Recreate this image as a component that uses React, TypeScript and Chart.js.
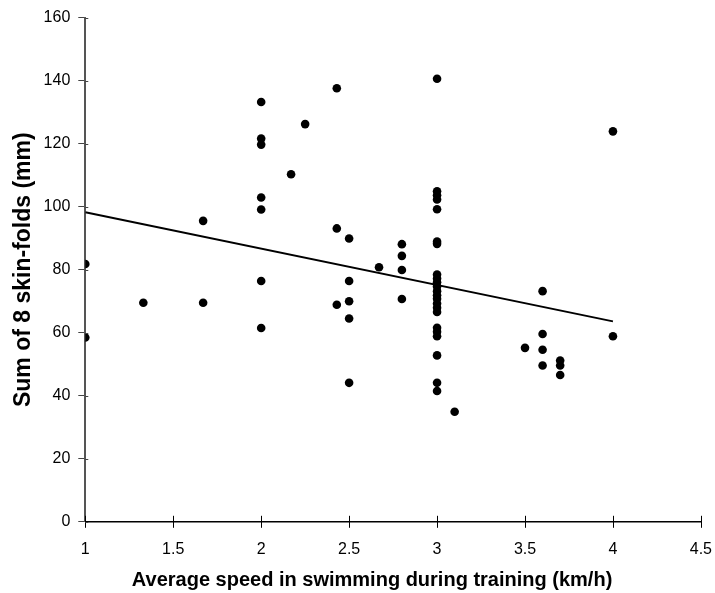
import React, { useEffect, useRef } from "react";
import { Chart, registerables } from "chart.js";

Chart.register(...registerables);

const speeds: number[] = [
  1, 1,
  1.33,
  1.67, 1.67,
  2, 2, 2, 2, 2, 2, 2,
  2.17,
  2.25,
  2.43, 2.43, 2.43,
  2.5, 2.5, 2.5, 2.5, 2.5,
  2.67,
  2.8, 2.8, 2.8, 2.8,
  3, 3, 3, 3, 3, 3, 3, 3, 3, 3, 3, 3, 3, 3, 3, 3, 3, 3, 3, 3, 3, 3, 3,
  3.1,
  3.5,
  3.6, 3.6, 3.6, 3.6,
  3.7, 3.7, 3.7,
  4, 4,
];

const skinfolds: number[] = [
  81.8, 58.5,
  69.5,
  95.5, 69.5,
  133.2, 121.6, 119.7, 102.9, 99.1, 76.4, 61.5,
  110.3,
  126.2,
  137.6, 93.1, 68.9,
  89.9, 76.4, 70.0, 64.5, 44.1,
  80.8,
  88.1, 84.4, 79.9, 70.7,
  140.6, 104.9, 103.6, 102.3, 99.2, 88.9, 88.2, 78.5, 77.2, 76.0, 74.7, 73.2, 71.9, 70.8, 69.3, 67.9, 66.6, 61.6, 60.3, 58.9, 52.8, 44.1, 41.5,
  34.9,
  55.2,
  73.2, 59.6, 54.6, 49.6,
  51.2, 49.6, 46.6,
  123.9, 58.9,
];

const trendX: number[] = [1, 4];
const trendY: number[] = [98.2, 63.6];

const xTitle = "Average speed in swimming during training (km/h)";
const yTitle = "Sum of 8 skin-folds (mm)";

const FONT = "'Liberation Sans', Arial, sans-serif";

const axisExtras = {
  id: "axisExtras",
  afterDraw(chart: any) {
    const ctx = chart.ctx;
    const xs = chart.scales.x;
    const ys = chart.scales.y;
    const area = chart.chartArea;
    ctx.save();
    ctx.strokeStyle = "#000";
    ctx.lineWidth = 1;
    xs.ticks.forEach((t: any) => {
      const px = Math.round(xs.getPixelForValue(t.value)) + 0.5;
      ctx.beginPath();
      ctx.moveTo(px, area.bottom - 6);
      ctx.lineTo(px, area.bottom + 6);
      ctx.stroke();
    });
    ctx.strokeStyle = "#444";
    ys.ticks.forEach((t: any) => {
      const py = Math.round(ys.getPixelForValue(t.value)) + 0.5;
      ctx.beginPath();
      ctx.moveTo(area.left, py);
      ctx.lineTo(area.left + 3, py);
      ctx.stroke();
    });
    // x-axis title, placed slightly left of the plot centre as in the source figure
    ctx.fillStyle = "#000";
    ctx.font = "bold 20px " + FONT;
    ctx.textAlign = "center";
    ctx.textBaseline = "middle";
    const cx = (area.left + area.right) / 2 - 21;
    ctx.fillText(xTitle, cx, xs.bottom - 12);
    ctx.restore();
  },
};

export default function App() {
  const ref = useRef<HTMLCanvasElement | null>(null);

  useEffect(() => {
    if (!ref.current) return;
    const chart = new Chart(ref.current, {
      type: "scatter",
      data: {
        datasets: [
          {
            label: "data",
            data: speeds.map((x, i) => ({ x, y: skinfolds[i] })),
            backgroundColor: "#000",
            borderColor: "#000",
            pointRadius: 4.3,
            pointBorderWidth: 0,
          },
          {
            label: "trend",
            data: trendX.map((x, i) => ({ x, y: trendY[i] })),
            showLine: true,
            borderColor: "#000",
            borderWidth: 2,
            pointRadius: 0,
          } as any,
        ],
      },
      plugins: [axisExtras],
      options: {
        animation: false,
        responsive: false,
        maintainAspectRatio: false,
        layout: { padding: { left: 10, right: 0, top: 7, bottom: 1 } },
        plugins: { legend: { display: false }, tooltip: { enabled: false } },
        scales: {
          x: {
            type: "linear",
            min: 1,
            max: 4.5,
            ticks: {
              stepSize: 0.5,
              color: "#000",
              font: { family: FONT, size: 16 },
              padding: 3,
              callback: (v: any) => String(v),
            },
            grid: {
              display: true,
              drawOnChartArea: false,
              drawTicks: true,
              tickLength: 15,
              tickColor: "rgba(0,0,0,0)",
              color: "#000",
            },
            border: { display: true, color: "#000", width: 1.5 },
            title: {
              display: true,
              text: xTitle,
              color: "rgba(0,0,0,0)",
              font: { family: FONT, size: 20, weight: "bold" },
              padding: { top: 6, bottom: 0 },
            },
          },
          y: {
            type: "linear",
            min: 0,
            max: 160,
            ticks: {
              stepSize: 20,
              color: "#000",
              font: { family: FONT, size: 16 },
              padding: 8,
            },
            grid: {
              display: true,
              drawOnChartArea: false,
              drawTicks: true,
              tickLength: 7,
              color: "#444",
            },
            border: { display: true, color: "#555", width: 2 },
            title: {
              display: true,
              text: yTitle,
              color: "#000",
              font: { family: FONT, size: 23, weight: "bold" },
              padding: { top: 0, bottom: -2 },
            },
          },
        },
      },
    });
    return () => chart.destroy();
  }, []);

  return (
    <div style={{ position: "fixed", left: 0, top: 0, width: 715, height: 593, background: "#fff" }}>
      <canvas ref={ref} width={715} height={593} style={{ width: 715, height: 593 }} />
    </div>
  );
}
